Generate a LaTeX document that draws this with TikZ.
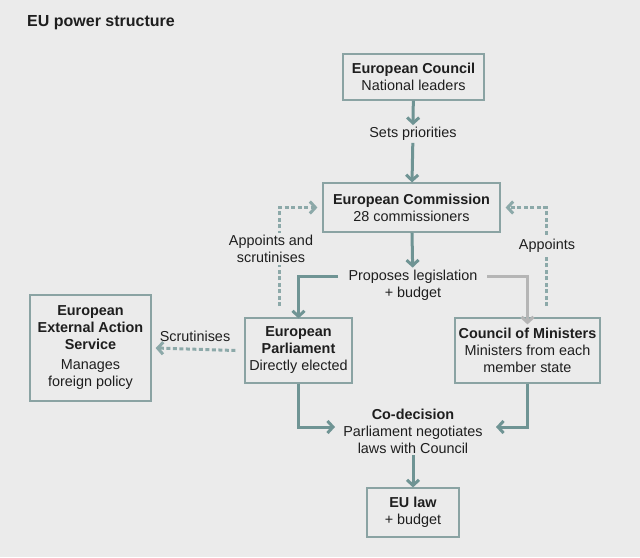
\documentclass[tikz,border=0pt]{standalone}
\usepackage{fontspec}
\setmainfont{Liberation Sans}
\usetikzlibrary{arrows.meta}
\definecolor{bgrey}{HTML}{EBEBEB}
\definecolor{boxline}{HTML}{8AA3A3}
\definecolor{flow}{HTML}{6F9494}
\definecolor{flowlight}{HTML}{B5B5B5}
\definecolor{ink}{HTML}{1E1E1E}
\tikzset{
  organ/.style={draw=boxline, line width=1.2pt, fill=bgrey, align=center, inner sep=0pt,
    font=\fontsize{14.4}{17}\selectfont, text=ink},
  caption/.style={align=center, inner sep=2pt, font=\fontsize{14.4}{17}\selectfont, text=ink},
  flowline/.style={->, draw=flow, line width=3pt},
  dashline/.style={->, draw=flow!80, line width=3pt, dash pattern=on 4pt off 2.5pt}
}
\begin{document}
\begin{tikzpicture}[x=1pt, y=-1pt, >={Straight Barb[length=5.5pt,width=12pt]}]
    \useasboundingbox[fill=bgrey] (0,0) rectangle (640,557);

    \node[anchor=west, font=\bfseries\fontsize{16}{19}\selectfont, text=ink, inner sep=0pt]
        (title) at (27,23) {EU power structure};

    \node[organ, minimum width=141pt, minimum height=46pt] (council) at (413.5,77)
        {\textbf{European Council}\\National leaders};
    \node[organ, minimum width=177pt, minimum height=49pt] (commission) at (411.5,207.5)
        {\textbf{European Commission}\\28 commissioners};
    \node[organ, minimum width=107pt, minimum height=65pt] (parliament) at (298.5,350.5)
        {\textbf{European}\\\textbf{Parliament}\\Directly elected};
    \node[organ, minimum width=145pt, minimum height=65pt] (ministers) at (527.5,350.5)
        {\textbf{Council of Ministers}\\Ministers from each\\member state};
    \node[organ, minimum width=121pt, minimum height=106pt] (eeas) at (90.5,348)
        {\textbf{European}\\\textbf{External Action}\\\textbf{Service}\\[3pt]Manages\\foreign policy};
    \node[organ, minimum width=92pt, minimum height=49pt] (eulaw) at (413,512.5)
        {\textbf{EU law}\\+ budget};

    \node[caption] (priorities) at (413,134) {Sets priorities};
    \node[caption] (proposes) at (413,285) {Proposes legislation\\+ budget};
    \node[caption] (codecision) at (413,431) {\textbf{Co-decision}\\Parliament negotiates\\laws with Council};
    \node[caption] (scrutinises) at (195,336) {Scrutinises};

    \coordinate (propL) at (338,276);
    \coordinate (propR) at (487,276);
    \coordinate (cdL) at (335,427);
    \coordinate (cdR) at (496,427);
    \coordinate (apL) at (279,306);
    \coordinate (apR) at (546,306);

    \draw[flowline] (council) -- (priorities);
    \draw[flowline] (priorities) -- (commission);
    \draw[flowline] (commission) -- (proposes);
    \draw[flowline] (propL) -| ([yshift=-1pt]parliament.north);
    \draw[flowline, draw=flowlight] (propR) -| ([yshift=-7pt]ministers.north);
    \draw[flowline] (parliament.south) |- (cdL);
    \draw[flowline] (ministers.south) |- (cdR);
    \draw[flowline] (codecision) -- (eulaw);

    \draw[dashline] (apL) |- ([xshift=-5pt]commission.west);
    \draw[dashline] (apR) |- ([xshift=5pt]commission.east);
    \draw[dashline] ([xshift=-9pt]parliament.west) -- ([xshift=4pt]eeas.east);

    \node[caption, fill=bgrey] (appointsL) at (271,249) {Appoints and\\scrutinises};
    \node[caption, fill=bgrey] (appointsR) at (547,246) {Appoints};
\end{tikzpicture}
\end{document}
